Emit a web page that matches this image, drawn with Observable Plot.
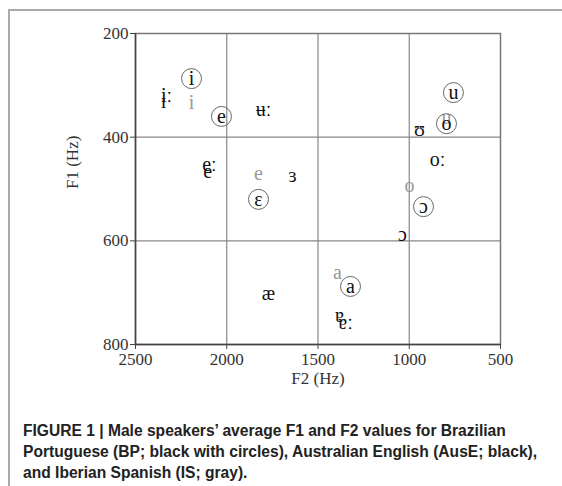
<!DOCTYPE html>
<html>
<head>
<meta charset="utf-8">
<script src="https://cdn.jsdelivr.net/npm/d3@7"></script>
<script src="https://cdn.jsdelivr.net/npm/@observablehq/plot@0.6"></script>
<style>
  html, body { margin: 0; padding: 0; background: #fff; }
  #page { position: relative; width: 562px; height: 486px; overflow: hidden; }
  #border { position: absolute; left: 8px; top: 9px; width: 600px; height: 600px;
            border-top: 2px solid #aaa; border-left: 2px solid #aaa; }
  #chart { position: absolute; left: 0; top: 0; }
  #caption { position: absolute; left: 23px; top: 420px; width: 535px;
             font-family: "Liberation Sans", Arial, sans-serif; font-weight: bold;
             font-size: 15.6px; line-height: 21px; color: #222; white-space: nowrap; }
</style>
</head>
<body>
<div id="page">
  <div id="border"></div>
  <div id="chart"></div>
  <div id="caption">FIGURE 1 | Male speakers’ average F1 and F2 values for Brazilian<br>Portuguese (BP; black with circles), Australian English (AusE; black),<br>and Iberian Spanish (IS; gray).</div>
</div>
<script>
// Brazilian Portuguese (circled, black)
const bpVowels = ["i", "e", "ɛ", "a", "ɔ", "o", "u"];
const bpF2 = [2193, 2029, 1826, 1322, 922, 796, 758];
const bpF1 = [287, 360, 520, 688, 534, 374, 314];

// Australian English (black)
const auseVowels = ["iː", "ɪ", "ʉː", "eː", "e", "ɜ", "æ", "ɐ", "ɐː", "ɔ", "oː", "ʊ"];
const auseF2 = [2330, 2347, 1799, 2095, 2105, 1640, 1771, 1382, 1349, 1037, 845, 944];
const auseF1 = [320, 331, 347, 453, 466, 474, 702, 744, 758, 588, 443, 385];

// Iberian Spanish (gray)
const isVowels = ["i", "e", "a", "o", "u"];
const isF2 = [2193, 1826, 1393, 999, 796];
const isF1 = [333, 470, 661, 493, 362];

// Axis ticks and grid
const f2Ticks = [2500, 2000, 1500, 1000, 500];
const f1Ticks = [200, 400, 600, 800];
const f2Grid = [2000, 1500, 1000];
const f1Grid = [400, 600];

const rows = (v, f2, f1) => v.map((s, i) => ({vowel: s, F2: f2[i], F1: f1[i]}));
const bp = rows(bpVowels, bpF2, bpF1);
const ause = rows(auseVowels, auseF2, auseF1);
const is = rows(isVowels, isF2, isF1);

const serif = "Liberation Serif, DejaVu Serif, serif";
const plain = d => String(d);

const chart = Plot.plot({
  width: 562,
  height: 400,
  marginLeft: 135,
  marginRight: 62,
  marginTop: 33,
  marginBottom: 56,
  style: {fontFamily: serif, fontSize: "17px", color: "#333", background: "transparent"},
  x: {domain: [2500, 500], label: null},
  y: {domain: [800, 200], label: null},
  marks: [
    Plot.ruleX(f2Grid, {stroke: "#888", strokeWidth: 1.2}),
    Plot.ruleY(f1Grid, {stroke: "#888", strokeWidth: 1.2}),
    Plot.frame({stroke: "#777", strokeWidth: 1.5}),
    Plot.axisX({ticks: f2Ticks, tickFormat: plain, tickSize: 5, tickPadding: 3, fontSize: 17, stroke: "#444", label: null}),
    Plot.axisY({ticks: f1Ticks, tickFormat: plain, tickSize: 5, tickPadding: 2, fontSize: 17, stroke: "#444", label: null}),
    Plot.ruleX([2500], {stroke: "#444", strokeWidth: 1.5}),
    Plot.ruleY([800], {stroke: "#444", strokeWidth: 1.5}),
    Plot.text(is, {x: "F2", y: "F1", text: "vowel", fill: "#999", fontSize: 20, fontFamily: serif}),
    Plot.text(ause, {x: "F2", y: "F1", text: "vowel", fill: "#111", fontSize: 20, fontFamily: serif}),
    Plot.dot(bp, {x: "F2", y: "F1", r: 10, stroke: "#666", strokeWidth: 1, fill: "none"}),
    Plot.text(bp, {x: "F2", y: "F1", text: "vowel", fill: "#111", fontSize: 20, fontFamily: serif}),
    Plot.text(["F2 (Hz)"], {frameAnchor: "bottom", dy: 39, fontSize: 17, fill: "#333", fontFamily: serif}),
    Plot.text(["F1 (Hz)"], {frameAnchor: "left", dx: -63, rotate: -90, fontSize: 17, fill: "#333", fontFamily: serif})
  ]
});
document.getElementById("chart").appendChild(chart);
</script>
</body>
</html>
